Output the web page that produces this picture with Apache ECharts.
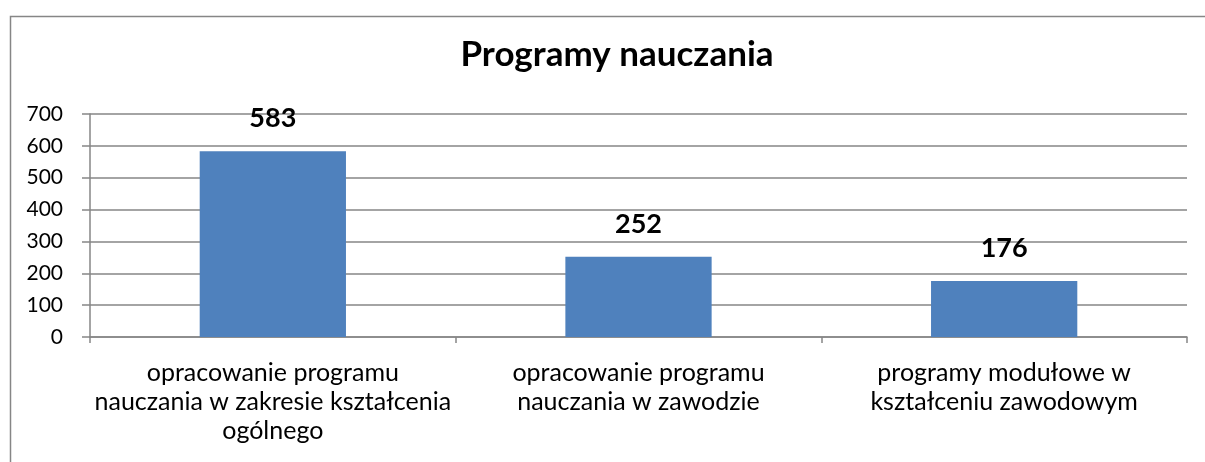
<!DOCTYPE html>
<html><head><meta charset="utf-8">
<script src="https://cdn.jsdelivr.net/npm/echarts@6/dist/echarts.min.js"></script>
<style>html,body{margin:0;padding:0;background:#fff}#c{width:1205px;height:462px}</style>
</head><body><div id="c"></div>
<script>
const categories = [
  "opracowanie programu\nnauczania w zakresie kształcenia\nogólnego",
  "opracowanie programu\nnauczania w zawodzie",
  "programy modułowe w\nkształceniu zawodowym"
];
const values = [583, 252, 176];
const yTicks = [0, 100, 200, 300, 400, 500, 600, 700];

const chart = echarts.init(document.getElementById('c'), null, {renderer: 'canvas'});
const font = 'Lato, "Open Sans", sans-serif';
chart.setOption({
  animation: false,
  backgroundColor: '#fff',
  graphic: [{
    type: 'rect', left: 8, top: 14, silent: true,
    shape: {width: 1300, height: 500},
    style: {fill: 'none', stroke: '#868686', lineWidth: 1.5}
  }],
  title: {
    text: 'Programy nauczania', left: 612, top: 32, textAlign: 'center',
    textStyle: {fontFamily: font, fontSize: 35, fontWeight: 'bold', color: '#000'}
  },
  grid: {left: 90, right: 18, top: 114, bottom: 125, containLabel: false},
  xAxis: {
    type: 'category', data: categories,
    axisLine: {lineStyle: {color: '#868686', width: 1.5}},
    axisTick: {show: true, length: 6, alignWithLabel: false, lineStyle: {color: '#868686', width: 1.5}},
    axisLabel: {fontFamily: font, fontSize: 25, color: '#000', lineHeight: 29, margin: 21, interval: 0}
  },
  yAxis: {
    type: 'value', min: yTicks[0], max: yTicks[yTicks.length - 1], interval: 100,
    axisLine: {show: true, lineStyle: {color: '#868686', width: 1.5}},
    axisTick: {show: true, length: 8, lineStyle: {color: '#868686', width: 1.5}},
    splitLine: {lineStyle: {color: '#868686', width: 1.5}},
    axisLabel: {fontFamily: font, fontSize: 21, color: '#000', margin: 27}
  },
  series: [{
    type: 'bar', data: values, barWidth: '40%',
    itemStyle: {color: '#4F81BD'},
    label: {show: true, position: 'top', distance: 19, fontFamily: font, fontSize: 27, fontWeight: 'bold', color: '#000'}
  }]
});
</script></body></html>
